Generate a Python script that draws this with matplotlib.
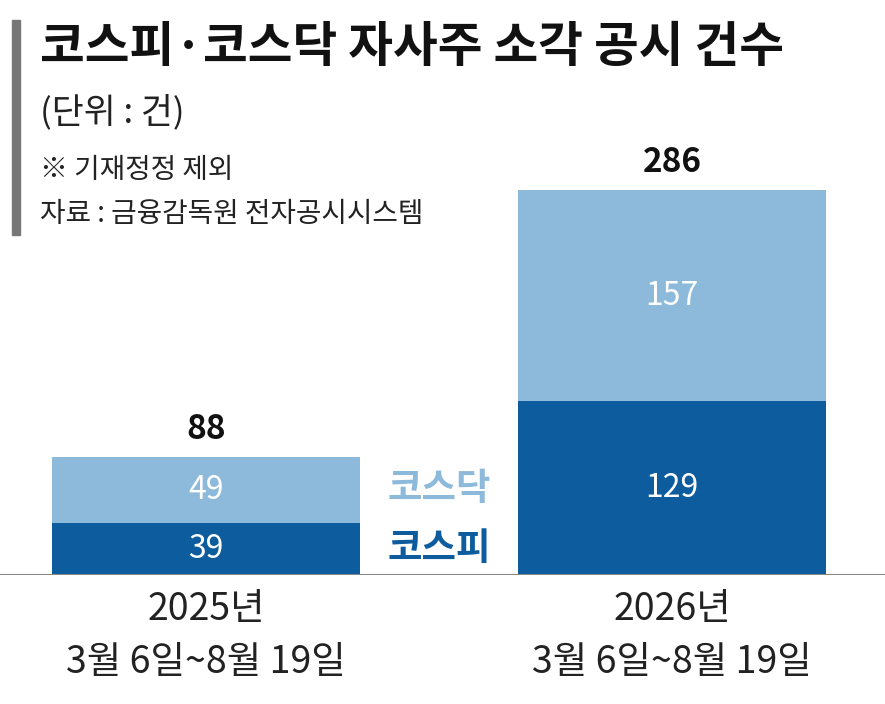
import matplotlib
matplotlib.use("Agg")
import matplotlib.pyplot as plt

plt.rcParams['font.family'] = ['Noto Sans CJK KR', 'DejaVu Sans']

years = ["2025년", "2026년"]
ranges = ["3월 6일~8월 19일", "3월 6일~8월 19일"]
kospi = [39, 129]
kosdaq = [49, 157]
totals = [88, 286]

dark = "#0c5c9e"
light = "#8dbadb"

fig = plt.figure(figsize=(8.85, 7.04), dpi=100)
W, H = 885, 704
base = 575
ppu = 385 / 286
ax = fig.add_axes([0, (H - base) / H, 1, base / H])
ax.set_ylim(0, base / ppu)
ax.set_xlim(-206 / 466, (W - 206) / 466)
ax.axis('off')
ax.set_clip_on(False)
x = [0, 1]
bw = 308 / 466
ax.bar(x, kospi, width=bw, color=dark)
ax.bar(x, kosdaq, width=bw, bottom=kospi, color=light)
for i in x:
    ax.text(i, kospi[i] / 2, str(kospi[i]), ha='center', va='center', color='white', fontsize=23)
    ax.text(i, kospi[i] + kosdaq[i] / 2, str(kosdaq[i]), ha='center', va='center', color='white', fontsize=23)
    ax.text(i, totals[i] + 8, str(totals[i]), ha='center', va='bottom', color='#111111', fontsize=24, fontweight='bold')
    ax.text(i, -35 / ppu, years[i], ha='center', va='center', color='#222222', fontsize=27, clip_on=False)
    ax.text(i, -88 / ppu, ranges[i], ha='center', va='center', color='#222222', fontsize=27, clip_on=False)
ax.axhline(0, color='#888888', lw=1.5)
ax.text(0.5, kospi[0] / 2, "코스피", ha='center', va='center', color=dark, fontsize=27, fontweight='bold')
ax.text(0.5, kospi[0] + kosdaq[0] / 2 + 1, "코스닥", ha='center', va='center', color=light, fontsize=27, fontweight='bold')

fig.patches.append(plt.Rectangle((12 / W, 1 - 235 / H), 8 / W, 215 / H, transform=fig.transFigure, color='#777777'))
fig.text(40 / W, 1 - 47 / H, "코스피·코스닥 자사주 소각 공시 건수", fontsize=35, fontweight='bold', color='#111111', va='center')
fig.text(40 / W, 1 - 112 / H, "(단위 : 건)", fontsize=25, color='#222222', va='center')
fig.text(40 / W, 1 - 170 / H, "※ 기재정정 제외", fontsize=20, color='#222222', va='center')
fig.text(40 / W, 1 - 214 / H, "자료 : 금융감독원 전자공시시스템", fontsize=20, color='#222222', va='center')

fig.savefig("out.png", dpi=100, facecolor='white')
